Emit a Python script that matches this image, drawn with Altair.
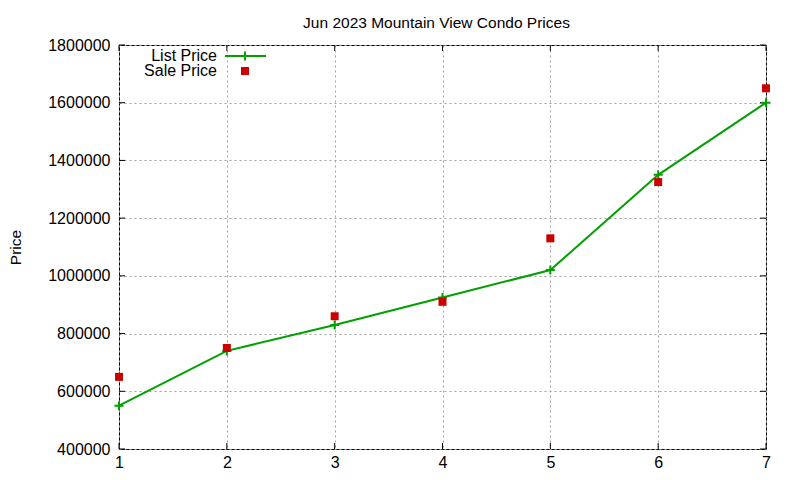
import altair as alt
import pandas as pd

months = [1, 2, 3, 4, 5, 6, 7]
list_price = [550000, 740000, 830000, 925000, 1020000, 1350000, 1600000]
sale_price = [650000, 750000, 860000, 910000, 1130000, 1325000, 1650000]
y_ticks = [400000, 600000, 800000, 1000000, 1200000, 1400000, 1600000, 1800000]
x_ticks = [1, 2, 3, 4, 5, 6, 7]
series_names = ["List Price", "Sale Price"]
title_text = "Jun 2023 Mountain View Condo Prices"

GREEN = "#00a000"
RED = "#cc0000"
FONT = "Liberation Sans"
W, H = 647, 404

df = pd.DataFrame({"month": months, "list": list_price, "sale": sale_price})
ydf = pd.DataFrame({"v": y_ticks})
xdf = pd.DataFrame({"v": x_ticks})
one = pd.DataFrame({"k": [0]})

xs = alt.Scale(domain=[1, 7], nice=False)
ys = alt.Scale(domain=[400000, 1800000], nice=False, zero=False)

xaxis = alt.Axis(values=x_ticks, format="d", grid=True, ticks=False, domain=False,
                 labelPadding=5, labelFlush=False, title=None)
yaxis = alt.Axis(values=y_ticks, format="d", grid=True, ticks=False, domain=False,
                 labelPadding=9, labelFlush=False, title="Price", titleAngle=270,
                 titleX=-104, titleY=H / 2, titleAlign="center", titleBaseline="middle",
                 titleFontWeight="normal", titleFontSize=15.5, titleFont=FONT,
                 titleColor="black")

base = alt.Chart(df)

line = base.mark_line(color=GREEN, strokeWidth=2).encode(
    x=alt.X("month:Q", scale=xs, axis=xaxis),
    y=alt.Y("list:Q", scale=ys, axis=yaxis),
)
plus_shape = "M-1,0L1,0M0,-1L0,1"
list_pts = base.mark_point(shape=plus_shape, filled=False, color=GREEN, strokeWidth=2,
                           size=81, opacity=1).encode(
    x=alt.X("month:Q", scale=xs), y=alt.Y("list:Q", scale=ys))
sale_pts = base.mark_point(shape="square", filled=True, color=RED, size=64, opacity=1).encode(
    x=alt.X("month:Q", scale=xs), y=alt.Y("sale:Q", scale=ys))

# inward ticks (gnuplot style, mirrored)
yl = alt.Chart(ydf).mark_rule(color="black", strokeWidth=1).encode(
    y=alt.Y("v:Q", scale=ys), x=alt.value(0), x2=alt.value(6))
yr = alt.Chart(ydf).mark_rule(color="black", strokeWidth=1).encode(
    y=alt.Y("v:Q", scale=ys), x=alt.value(W - 6), x2=alt.value(W))
xb = alt.Chart(xdf).mark_rule(color="black", strokeWidth=1).encode(
    x=alt.X("v:Q", scale=xs), y=alt.value(H - 6), y2=alt.value(H))
xt = alt.Chart(xdf).mark_rule(color="black", strokeWidth=1).encode(
    x=alt.X("v:Q", scale=xs), y=alt.value(0), y2=alt.value(6))

# legend (top-left, gnuplot style)
leg_t1 = alt.Chart(one).mark_text(text=series_names[0], align="right", baseline="middle",
                                  font=FONT, fontSize=16, color="black").encode(
    x=alt.value(98), y=alt.value(11))
leg_t2 = alt.Chart(one).mark_text(text=series_names[1], align="right", baseline="middle",
                                  font=FONT, fontSize=16, color="black").encode(
    x=alt.value(98), y=alt.value(26))
leg_line = alt.Chart(one).mark_rule(color=GREEN, strokeWidth=2).encode(
    x=alt.value(106), x2=alt.value(147), y=alt.value(11))
leg_plus = alt.Chart(one).mark_point(shape=plus_shape, filled=False, color=GREEN,
                                     strokeWidth=2, size=81, opacity=1).encode(
    x=alt.value(126), y=alt.value(11))
leg_sq = alt.Chart(one).mark_point(shape="square", filled=True, color=RED, size=64,
                                   opacity=1).encode(
    x=alt.value(126), y=alt.value(26))

chart = alt.layer(
    line, yl, yr, xb, xt, list_pts, sale_pts,
    leg_t1, leg_t2, leg_line, leg_plus, leg_sq
).properties(
    width=W, height=H,
    background="white",
    title=alt.TitleParams(title_text, anchor="middle", offset=6, frame="group", dx=-6,
                          font=FONT, fontSize=15.5, fontWeight="normal", color="black"),
    autosize=alt.AutoSizeParams(type="none"),
    padding={"left": 111, "top": 37, "right": 26, "bottom": 31},
).configure_view(
    stroke="black", strokeWidth=1
).configure_axis(
    labelFont=FONT, labelFontSize=16, labelColor="black",
    gridColor="#a0a0a0", gridDash=[2, 3], gridWidth=1, gridOpacity=1,
)

chart.save("out.html", embed_options={"renderer": "svg", "actions": False})
